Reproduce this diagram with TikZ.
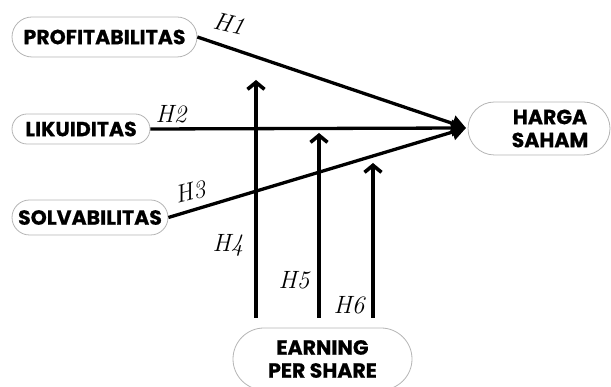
\documentclass[tikz,border=0pt]{standalone}
\usepackage{fontspec}
\newfontfamily\pop{Poppins}[BoldFeatures={FakeBold=0.6}]
\usetikzlibrary{arrows.meta,shapes.misc}
\definecolor{boxgray}{HTML}{B5B5B5}
\tikzset{
  pill/.style={draw=boxgray, line width=0.8pt, fill=white, rounded rectangle, inner sep=0pt,
    font=\pop\bfseries\fontsize{20.5}{23}\selectfont, align=center},
  conv/.style={line width=3.3pt, -{Triangle[length=14pt,width=16pt]}},
  vert/.style={line width=3.6pt, -{Straight Barb[length=7pt,width=17pt]}},
  hlab/.style={font=\itshape\fontsize{25}{25}\selectfont, inner sep=0pt}
}
\begin{document}
\begin{tikzpicture}[x=1pt,y=1pt]
\useasboundingbox (0,0) rectangle (611,387);
% boxes
\node[pill, minimum width=185pt, minimum height=40pt] (prof) at (104.5,350) {PROFITABILITAS};
\node[pill, minimum width=138pt, minimum height=30pt] (liku) at (81,258) {LIKUIDITAS};
\node[pill, minimum width=156pt, minimum height=35pt] (solv) at (90,169.5) {SOLVABILITAS};
\node[pill, minimum width=142pt, minimum height=53pt] (harga) at (539,258.5) {\hspace*{22pt}HARGA\\\hspace*{22pt}SAHAM};
\node[pill, minimum width=179pt, minimum height=62pt] (eps) at (322.5,28) {EARNING\\PER SHARE};
% tip and arrow endpoints
\coordinate (tip) at (466,259);
\coordinate (h4a) at (256,69);  \coordinate (h4b) at (256,307);
\coordinate (h5a) at (319,69);  \coordinate (h5b) at (319,254);
\coordinate (h6a) at (373,69);  \coordinate (h6b) at (373,224);
% converging lines
\draw[conv] (prof.east) -- (tip);
\draw[conv] (liku.east) -- (tip);
\draw[conv] (solv.east) -- (tip);
% vertical arrows
\draw[vert] (h4a) -- (h4b);
\draw[vert] (h5a) -- (h5b);
\draw[vert] (h6a) -- (h6b);
% labels
\node[hlab, rotate=-13] (l1) at (229,363) {H1};
\node[hlab] (l2) at (171,273) {H2};
\node[hlab, rotate=14] (l3) at (190,195) {H3};
\node[hlab] (l4) at (228,142) {H4};
\node[hlab] (l5) at (294,107) {H5};
\node[hlab] (l6) at (349,82) {H6};
\end{tikzpicture}
\end{document}
